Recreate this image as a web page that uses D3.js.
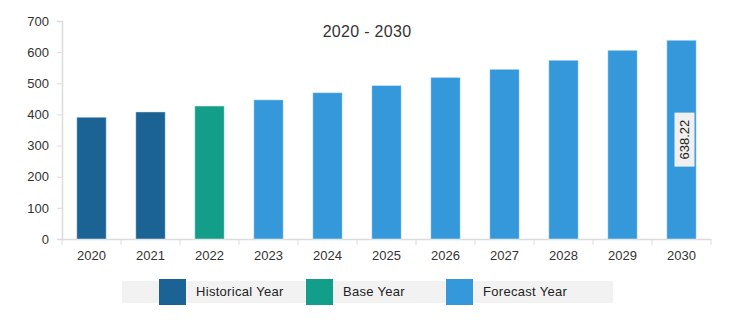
<!DOCTYPE html>
<html><head><meta charset="utf-8">
<script src="https://cdn.jsdelivr.net/npm/d3@7"></script>
<style>body{margin:0;background:#fff;}svg{display:block;font-family:"Liberation Sans",Arial,sans-serif;}</style>
</head><body><svg id="c" width="745" height="333"></svg>
<script>
const years = ["2020","2021","2022","2023","2024","2025","2026","2027","2028","2029","2030"];
const values = [391, 408, 427, 447, 470, 493, 519, 545, 574, 606, 638.22];
const kinds = ["Historical Year","Historical Year","Base Year","Forecast Year","Forecast Year","Forecast Year","Forecast Year","Forecast Year","Forecast Year","Forecast Year","Forecast Year"];
const legendLabels = ["Historical Year","Base Year","Forecast Year"];
const legendColors = ["#1a6394","#139e8a","#3498db"];
const yTicks = [0,100,200,300,400,500,600,700];
const title = "2020 - 2030";
const labelIndex = 10;

const svg = d3.select("#c");
const color = d3.scaleOrdinal().domain(legendLabels).range(legendColors);
const x = d3.scaleBand().domain(years).range([62, 711]).paddingInner(0.5).paddingOuter(0.25);
const y = d3.scaleLinear().domain([0, 700]).range([239, 21]);

// y axis
const ya = svg.append("g").attr("transform","translate(62,0)")
  .call(d3.axisLeft(y).tickValues(yTicks).tickSize(5).tickPadding(8));
ya.select(".domain").attr("stroke","#dcdcdc").attr("stroke-width",1.5);
ya.selectAll(".tick line").attr("stroke","#dcdcdc");
ya.selectAll("text").attr("font-size",13).attr("fill","#333");

// x axis
const xa = svg.append("g").attr("transform","translate(0,239)")
  .call(d3.axisBottom(x).tickSize(0).tickPadding(12));
xa.select(".domain").attr("stroke","#dcdcdc").attr("stroke-width",1.5);
xa.selectAll("text").attr("font-size",13).attr("fill","#333");
const step = x.step();
xa.selectAll(".bnd").data(d3.range(years.length+1)).enter().append("line")
  .attr("x1", i => 62 + i*step).attr("x2", i => 62 + i*step)
  .attr("y1",0).attr("y2",6).attr("stroke","#dcdcdc");

// bars
svg.append("g").selectAll("rect").data(years).enter().append("rect")
  .attr("x", d => x(d)).attr("width", x.bandwidth())
  .attr("y", (d,i) => y(values[i])).attr("height", (d,i) => y(0) - y(values[i]))
  .attr("fill", (d,i) => color(kinds[i]))
  .attr("stroke", "rgba(255,255,255,0.45)").attr("stroke-width",1);

// title
svg.append("text").attr("x", 367).attr("y", 37).attr("text-anchor","middle")
  .attr("font-size",16).attr("fill","#333").attr("letter-spacing","0.3px").text(title);

// value label
const lx = x(years[labelIndex]) + x.bandwidth()/2 + 3;
const ly = (y(values[labelIndex]) + y(0))/2;
const lg = svg.append("g").attr("transform", `translate(${lx},${ly}) rotate(-90)`);
lg.append("rect").attr("x",-27).attr("y",-10).attr("width",54).attr("height",20).attr("fill","#f0f0f0");
lg.append("text").attr("text-anchor","middle").attr("dy","0.35em").attr("font-size",13).attr("fill","#222")
  .text(values[labelIndex].toFixed(2));

// legend
const leg = svg.append("g");
leg.append("rect").attr("x",122).attr("y",281).attr("width",491).attr("height",22).attr("fill","#f2f2f2");
const lpos = [159, 306, 446];
legendLabels.forEach((l,i) => {
  leg.append("rect").attr("x",lpos[i]).attr("y",279).attr("width",27).attr("height",26).attr("fill",legendColors[i]);
  leg.append("text").attr("x",lpos[i]+37).attr("y",296).attr("font-size",13).attr("fill","#222")
    .attr("letter-spacing","0.3px").text(l);
});
</script></body></html>
